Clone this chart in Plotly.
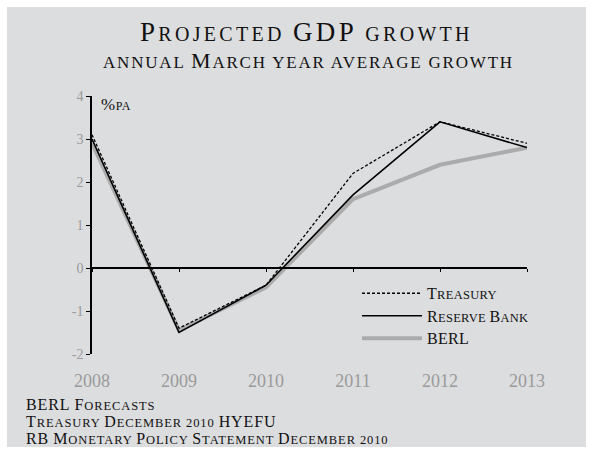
import plotly.graph_objects as go

# Forecast years and annual average GDP growth (% per annum)
years = [2008, 2009, 2010, 2011, 2012, 2013]
treasury = [3.1, -1.4, -0.4, 2.2, 3.4, 2.9]
reserve_bank = [3.0, -1.5, -0.4, 1.7, 3.4, 2.8]
berl = [2.9, -1.45, -0.45, 1.6, 2.4, 2.8]

y_ticks = [-2, -1, 0, 1, 2, 3, 4]
x_ticks = years

title_text = "Projected GDP growth"
subtitle_text = "annual March year average growth"
unit_text = "%pa"
sources = [
    "BERL Forecasts",
    "Treasury December 2010 HYEFU",
    "RB Monetary Policy Statement December 2010",
]

SERIF = "Liberation Serif"
BG = "#dcdddf"
W, H = 593, 454
ML, MR, MT, MB = 92, 66, 96, 100
PW, PH = W - ML - MR, H - MT - MB


def small_caps(text, big, small, spacing=0.0):
    """Hand-built small caps: capitals at `big`, everything else upper-cased at `small`."""
    runs = []
    for ch in text:
        size = big if (ch.isupper() or ch == "%") else small
        if runs and runs[-1][0] == size:
            runs[-1][1] += ch.upper()
        else:
            runs.append([size, ch.upper()])
    return "".join(
        f'<span style="font-size:{s}px;letter-spacing:{spacing}px">{t}</span>'
        for s, t in runs
    )


fig = go.Figure()

# Drawn bottom-up so the thick grey line sits underneath the black ones
fig.add_trace(go.Scatter(x=years, y=berl, mode="lines",
                         name=small_caps("BERL", 16, 12.5, 0.3),
                         line=dict(color="#ababab", width=4)))
fig.add_trace(go.Scatter(x=years, y=reserve_bank, mode="lines",
                         name=small_caps("Reserve Bank", 16, 12.5, 0.3),
                         line=dict(color="black", width=1.6)))
fig.add_trace(go.Scatter(x=years, y=treasury, mode="lines",
                         name=small_caps("Treasury", 16, 12.5, 0.3),
                         line=dict(color="black", width=1.3, dash="3px,2px")))


def px_to_paper_x(px):
    return (px - ML) / PW


def px_to_paper_y(py):
    return (H - MB - py) / PH


# Grey panel with a thin white frame around it
fig.add_shape(type="rect", xref="paper", yref="paper", layer="below",
              x0=px_to_paper_x(7), x1=px_to_paper_x(586),
              y0=px_to_paper_y(447), y1=px_to_paper_y(7),
              fillcolor=BG, line=dict(width=0))


def label(text, x, y, xanchor="left", size=15):
    fig.add_annotation(text=text, xref="paper", yref="paper",
                       x=px_to_paper_x(x), y=px_to_paper_y(y),
                       xanchor=xanchor, yanchor="middle", showarrow=False,
                       font=dict(family=SERIF, size=size, color="#111"))


label(small_caps(title_text, 27, 20, 3.3), 306, 32, "center", 27)
label(small_caps(subtitle_text, 22, 17, 1.8), 308, 61, "center", 22)
label(small_caps(unit_text, 17, 12, 0.5), 99, 104, "left", 17)
for i, line in enumerate(sources):
    label(small_caps(line, 16, 12.5, 0.9), 24, 404 + 17 * i, "left", 16)

fig.update_layout(
    width=W, height=H,
    margin=dict(l=ML, r=MR, t=MT, b=MB),
    paper_bgcolor="white", plot_bgcolor=BG,
    font=dict(family=SERIF),
    showlegend=True,
    legend=dict(x=px_to_paper_x(357), y=px_to_paper_y(277), xanchor="left", yanchor="top",
                bgcolor="rgba(0,0,0,0)", traceorder="reversed", itemwidth=60,
                font=dict(family=SERIF, size=15, color="#111"),
                tracegroupgap=0),
    xaxis=dict(range=[2008, 2013], tickvals=x_ticks, ticktext=[str(v) for v in x_ticks],
               showgrid=False, zeroline=False, showline=False, ticks="",
               ticklabelstandoff=14,
               tickfont=dict(family=SERIF, size=18, color="#9a9a9a")),
    xaxis2=dict(range=[2008, 2013], overlaying="x", anchor="free", position=1/3,
                side="bottom", tickvals=x_ticks, showticklabels=False,
                showgrid=False, zeroline=False, showline=True, linecolor="black",
                linewidth=1.5, ticks="outside", ticklen=3, tickcolor="black"),
    yaxis=dict(range=[-2, 4], tickvals=y_ticks,
               ticktext=["-2", "-1", "0", "1", "2", "3", "4"],
               showgrid=False, zeroline=False, showline=True, linecolor="black",
               linewidth=1.5, ticks="outside", ticklen=4, tickcolor="black",
               tickfont=dict(family=SERIF, size=14, color="#9a9a9a")),
)

# Invisible trace that brings the zero-line axis into the figure
fig.add_trace(go.Scatter(x=[2008], y=[0], xaxis="x2", mode="markers",
                         marker=dict(opacity=0), showlegend=False, hoverinfo="skip"))

fig.write_html("out.html")
